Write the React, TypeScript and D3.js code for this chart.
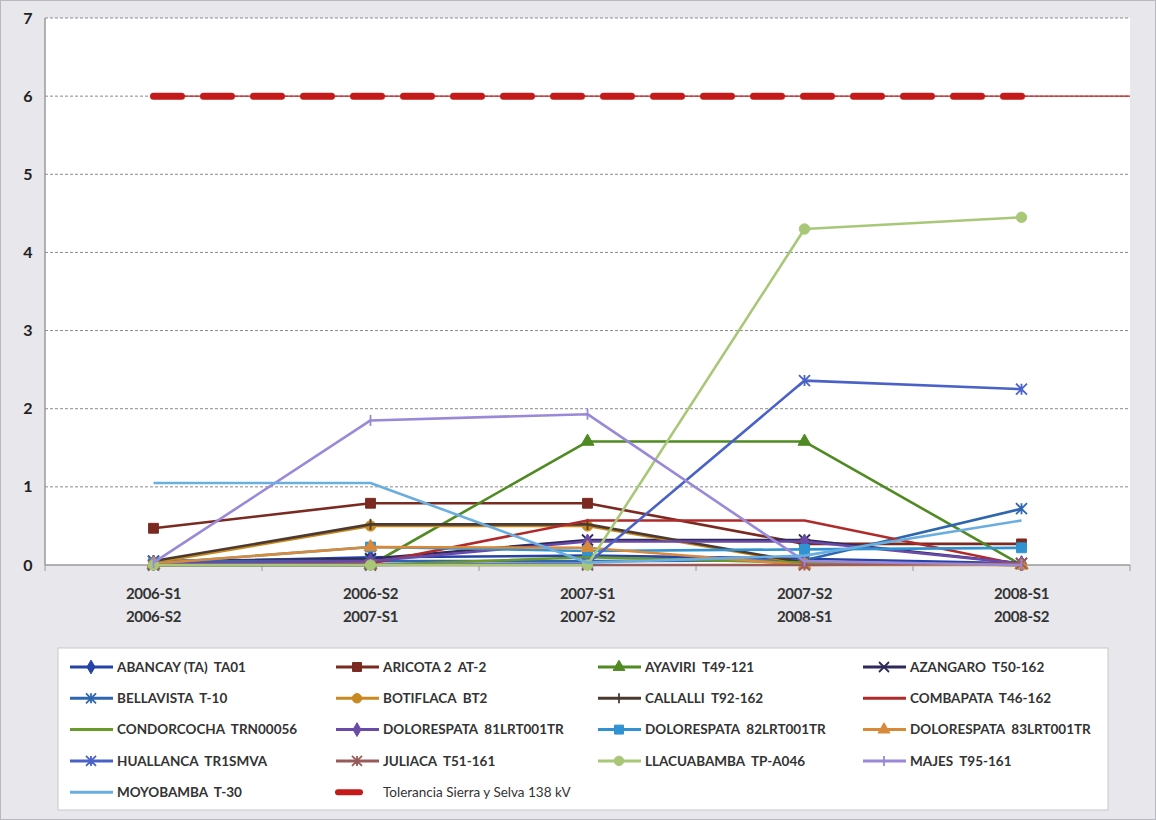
import React from "react";
import * as d3 from "d3";

const categories = [
  ["2006-S1", "2006-S2"],
  ["2006-S2", "2007-S1"],
  ["2007-S1", "2007-S2"],
  ["2007-S2", "2008-S1"],
  ["2008-S1", "2008-S2"],
];
const yTicks = [0, 1, 2, 3, 4, 5, 6, 7];

const abancay = [0.03, 0.1, 0.12, 0.08, 0.02];
const aricota = [0.47, 0.79, 0.79, 0.27, 0.27];
const ayaviri = [0, 0, 1.58, 1.58, 0];
const azangaro = [0.05, 0.08, 0.32, 0.32, 0.02];
const bellavista = [0.05, 0.05, 0.05, 0.06, 0.72];
const botiflaca = [0.03, 0.5, 0.5, 0.02, 0];
const callalli = [0.05, 0.52, 0.52, 0.03, 0];
const combapata = [0, 0.02, 0.57, 0.57, 0];
const condorcocha = [0, 0, 0.1, 0.03, 0];
const dolo81 = [0.02, 0.05, 0.3, 0.3, 0.02];
const dolo82 = [0.02, 0.23, 0.18, 0.2, 0.22];
const dolo83 = [0.02, 0.23, 0.22, 0, 0];
const huallanca = [0, 0, 0.02, 2.36, 2.25];
const juliaca = [0, 0, 0, 0, 0.02];
const llacuabamba = [0, 0, 0, 4.3, 4.45];
const majes = [0.03, 1.85, 1.93, 0.05, 0];
const moyobamba = [1.05, 1.05, 0.03, 0.12, 0.57];
const tolerancia = [6, 6, 6, 6, 6];

type S = { name: string; values: number[]; color: string; marker: string };
const series: S[] = [
  { name: "ABANCAY (TA)  TA01", values: abancay, color: "#2643a8", marker: "diamond" },
  { name: "ARICOTA 2  AT-2", values: aricota, color: "#7a2a20", marker: "square" },
  { name: "AYAVIRI  T49-121", values: ayaviri, color: "#4f8a22", marker: "triangle" },
  { name: "AZANGARO  T50-162", values: azangaro, color: "#2e2a5a", marker: "x" },
  { name: "BELLAVISTA  T-10", values: bellavista, color: "#2f66b0", marker: "star" },
  { name: "BOTIFLACA  BT2", values: botiflaca, color: "#c88a20", marker: "circle" },
  { name: "CALLALLI  T92-162", values: callalli, color: "#4a3a30", marker: "plus" },
  { name: "COMBAPATA  T46-162", values: combapata, color: "#b02a2a", marker: "none" },
  { name: "CONDORCOCHA  TRN00056", values: condorcocha, color: "#6a9a2a", marker: "none" },
  { name: "DOLORESPATA  81LRT001TR", values: dolo81, color: "#6a4aa8", marker: "diamond" },
  { name: "DOLORESPATA  82LRT001TR", values: dolo82, color: "#3092d0", marker: "square" },
  { name: "DOLORESPATA  83LRT001TR", values: dolo83, color: "#d88a3a", marker: "triangle" },
  { name: "HUALLANCA  TR1SMVA", values: huallanca, color: "#4a62c8", marker: "star" },
  { name: "JULIACA  T51-161", values: juliaca, color: "#9a5a5a", marker: "star" },
  { name: "LLACUABAMBA  TP-A046", values: llacuabamba, color: "#a8c878", marker: "circle" },
  { name: "MAJES  T95-161", values: majes, color: "#9a88d8", marker: "plus" },
  { name: "MOYOBAMBA  T-30", values: moyobamba, color: "#6aaee0", marker: "none" },
];
const toleranceName = "Tolerancia Sierra y Selva 138 kV";

const W = 1156, H = 820;
const plot = { left: 45, right: 1130, top: 18, bottom: 565 };

function markerPath(kind: string, size: number): { d: string; stroke: boolean } {
  const r = size / 2;
  switch (kind) {
    case "diamond": return { d: d3.symbol(d3.symbolDiamond, size * size * 0.55)() as string, stroke: false };
    case "square": return { d: d3.symbol(d3.symbolSquare, size * size * 0.8)() as string, stroke: false };
    case "triangle": return { d: d3.symbol(d3.symbolTriangle, size * size * 0.6)() as string, stroke: false };
    case "circle": return { d: d3.symbol(d3.symbolCircle, size * size * 0.7)() as string, stroke: false };
    case "x": return { d: `M${-r},${-r}L${r},${r}M${-r},${r}L${r},${-r}`, stroke: true };
    case "plus": return { d: `M0,${-r}L0,${r}`, stroke: true };
    case "star": return { d: `M${-r},${-r}L${r},${r}M${-r},${r}L${r},${-r}M0,${-r}L0,${r}`, stroke: true };
    default: return { d: "", stroke: false };
  }
}

function Marker({ kind, color, x, y, size }: { kind: string; color: string; x: number; y: number; size: number }) {
  if (kind === "none") return null;
  const m = markerPath(kind, size);
  return (
    <path
      d={m.d}
      transform={`translate(${x},${y})`}
      fill={m.stroke ? "none" : color}
      stroke={color}
      strokeWidth={m.stroke ? 1.8 : 1}
    />
  );
}

export default function App() {
  const x = d3.scalePoint<number>().domain(d3.range(categories.length)).range([plot.left, plot.right]).padding(0.5);
  const y = d3.scaleLinear().domain([0, 7]).range([plot.bottom, plot.top]);
  const step = x.step();
  const line = d3.line<number>().x((_, i) => x(i) as number).y((d) => y(d));

  const legendCols = [70, 336, 598, 863];
  const legendRow0 = 667, legendRowH = 31.3;
  const legendItems = [...series.map((s) => ({ ...s, tol: false })), { name: toleranceName, values: tolerancia, color: "#c41a1a", marker: "none", tol: true }];

  return (
    <svg width={W} height={H} style={{ position: "absolute", left: 0, top: 0, background: "#e7e7ec", whiteSpace: "pre" }} fontFamily="Lato, 'Liberation Sans', sans-serif">
      <rect x={0.5} y={0.5} width={W - 1} height={H - 1} fill="#e7e7ec" stroke="#b8b8c0" />
      <rect x={plot.left} y={plot.top} width={plot.right - plot.left} height={plot.bottom - plot.top} fill="#ffffff" />
      {/* gridlines */}
      {yTicks.filter((t) => t > 0).map((t) => (
        <line key={t} x1={plot.left} x2={plot.right} y1={y(t)} y2={y(t)} stroke="#8a8a8a" strokeWidth={1} strokeDasharray="3,2" />
      ))}
      {/* axes */}
      <line x1={plot.left} x2={plot.left} y1={plot.top} y2={plot.bottom} stroke="#9a9a9a" strokeWidth={1.5} />
      <line x1={plot.left} x2={plot.right} y1={plot.bottom} y2={plot.bottom} stroke="#9a9a9a" strokeWidth={1.5} />
      {d3.range(categories.length + 1).map((i) => (
        <line key={i} x1={plot.left + i * step} x2={plot.left + i * step} y1={plot.bottom} y2={plot.bottom + 6} stroke="#9a9a9a" />
      ))}
      {yTicks.map((t) => (
        <text key={t} x={28} y={y(t)} dy="0.35em" textAnchor="middle" fontSize={16} fontWeight="bold" fill="#222">{t}</text>
      ))}
      {categories.map((c, i) => (
        <text key={i} x={x(i)} y={plot.bottom + 34} textAnchor="middle" fontSize={15} fontWeight="bold" fill="#333" letterSpacing={-0.3}>
          <tspan x={x(i)} dy={0}>{c[0]}</tspan>
          <tspan x={x(i)} dy={23}>{c[1]}</tspan>
        </text>
      ))}
      {/* tolerance */}
      <line x1={x(0)} x2={plot.right} y1={y(6)} y2={y(6)} stroke="#c41a1a" strokeWidth={1.2} />
      <path d={line(tolerancia) as string} fill="none" stroke="#c41a1a" strokeWidth={7} strokeDasharray="28,22" strokeLinecap="round" />
      {/* series */}
      {series.map((s) => (
        <g key={s.name}>
          <path d={line(s.values) as string} fill="none" stroke={s.color} strokeWidth={2.6} strokeLinejoin="round" />
          {s.values.map((v, i) => (
            <Marker key={i} kind={s.marker} color={s.color} x={x(i) as number} y={y(v)} size={11} />
          ))}
        </g>
      ))}
      {/* legend */}
      <rect x={58} y={648} width={1050} height={162} fill="#ffffff" stroke="#c8c8cc" />
      {legendItems.map((s, i) => {
        const cx = legendCols[i % 4];
        const cy = legendRow0 + Math.floor(i / 4) * legendRowH;
        return (
          <g key={s.name}>
            {s.tol ? (
              <line x1={cx + 2} x2={cx + 24} y1={cy} y2={cy} stroke={s.color} strokeWidth={6} strokeLinecap="round" />
            ) : (
              <line x1={cx} x2={cx + 43} y1={cy} y2={cy} stroke={s.color} strokeWidth={3} />
            )}
            {!s.tol && <Marker kind={s.marker} color={s.color} x={cx + 21} y={cy} size={10} />}
            <text x={cx + 47} y={cy} dy="0.35em" fontSize={13.5} fontWeight={s.tol ? "normal" : "bold"} fill="#333" style={{ whiteSpace: "pre" }}>{s.name}</text>
          </g>
        );
      })}
    </svg>
  );
}
